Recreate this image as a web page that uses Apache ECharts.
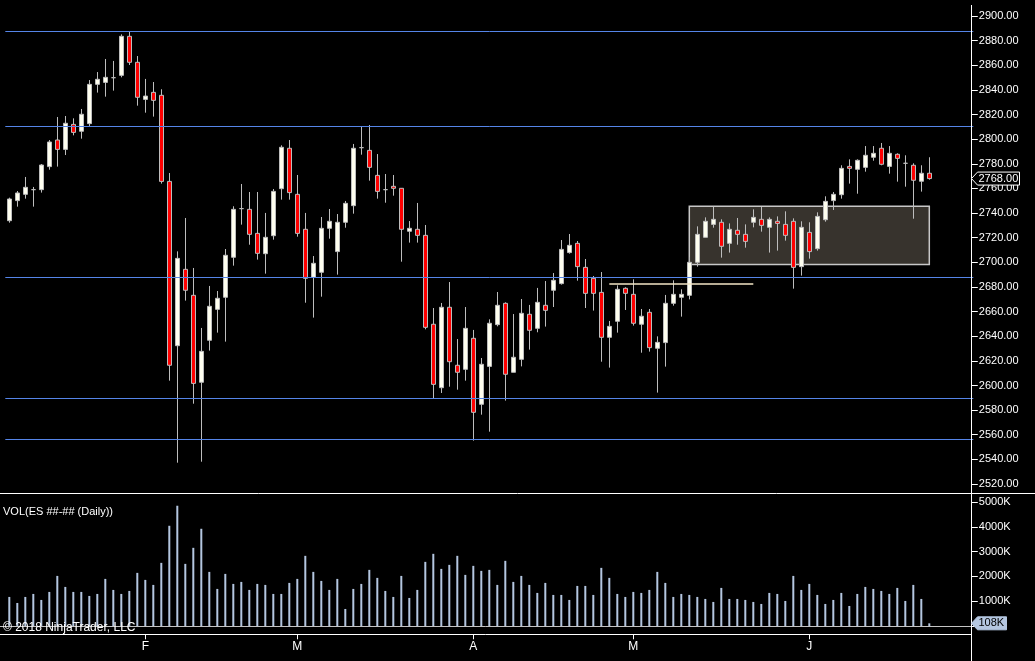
<!DOCTYPE html>
<html>
<head>
<meta charset="utf-8">
<script src="https://cdn.jsdelivr.net/npm/echarts@6/dist/echarts.min.js"></script>
<style>
html,body{margin:0;padding:0;background:#000;}
#c{width:1035px;height:661px;}
</style>
</head>
<body>
<div id="c"></div>
<script>
// ---- data ----
const openP = [2733.8,2750.1,2755.2,2759,2759,2777.7,2799.3,2791.7,2812,2806.4,2812.6,2844.5,2846.1,2849.9,2851.8,2883.5,2862.4,2832.3,2838,2835.6,
2765.7,2632.3,2694.3,2673.2,2602.6,2636.7,2661.8,2671.6,2704.1,2743.6,2743,2723.5,2707,2721.6,2759.8,2792.6,2755.2,2726.8,2687.8,2691.9,
2727.6,2708.7,2732.5,2746,2793.1,2790.9,2770.6,2759,2761.7,2760.1,2725.2,2726.8,2721.9,2649.7,2598.2,2663.5,2616.4,2613.1,2638.3,2584.7,
2615.5,2649.4,2666.7,2610.7,2621.2,2657.8,2646.4,2665.1,2677.3,2682.7,2707.9,2715.4,2695.9,2687,2675.6,2639.1,2652.1,2678.9,2674,2649.7,
2659.4,2630.2,2634.8,2666.7,2671.6,2673.2,2700,2720.3,2730.8,2732.5,2715.4,2726,2722.7,2732.5,2734.9,2728.4,2733.3,2730.8,2733.3,2696.5,
2724.3,2711.1,2734.6,2750.1,2754.9,2777.9,2775.5,2777.1,2785.3,2792.6,2777.9,2787.7,2780.4,2778.8,2765.8,2772.3];
const highP = [2752.5,2757.9,2769.3,2761.2,2779.8,2799.3,2818,2818.8,2816.9,2824.5,2848,2854.5,2865.1,2863.5,2885.1,2887.3,2867.5,2848.9,2846.4,2840.5,
2772.5,2708.9,2736,2695.4,2646.7,2680.8,2676.7,2710.8,2745.5,2763.6,2757.1,2757.1,2740.1,2759.5,2795,2799.3,2770.9,2740.1,2705.1,2736.8,
2743.3,2739.2,2749.8,2796.1,2810.2,2811.5,2787.9,2771.7,2770.9,2760.3,2733.5,2748.2,2730.3,2662.9,2667,2684,2637.7,2663.7,2645.1,2622.3,
2653.7,2675.9,2667.5,2658,2670.2,2665.4,2679.2,2684.8,2691.3,2718.1,2723,2717.3,2702.7,2688.9,2692.1,2652.4,2681.3,2679.7,2686.2,2662.1,
2662.1,2639.9,2673.5,2685.4,2678.1,2704.1,2729.2,2736.5,2745.2,2734.9,2731.6,2736,2730.8,2743,2744.9,2736.5,2737.3,2741.4,2735.7,2733.3,
2732.5,2740.6,2753.6,2757.1,2778.8,2783.6,2783.6,2794.4,2794.4,2796.9,2794.4,2788.5,2786.9,2780.4,2778.8,2785.3];
const lowP = [2732.2,2745.2,2751.7,2745.2,2756.6,2775.2,2777.7,2787.1,2803.1,2800.4,2810.7,2837.8,2834.5,2839.4,2850.2,2860.2,2827.2,2821.5,2818.3,2763.9,
2603.9,2537.3,2668.9,2585.2,2538.1,2628.3,2642.9,2635.6,2697.3,2730.6,2714.3,2702.2,2690.8,2718.4,2750.9,2750.9,2720.8,2667.2,2655.1,2672.1,
2719.2,2690,2728.1,2739.5,2787.4,2766.3,2751.7,2748.4,2754.1,2700.5,2716,2716,2645.6,2589.6,2593.9,2599,2596.6,2603.9,2555.2,2576.3,
2562.5,2648,2587.7,2610.7,2615.5,2629.1,2643.2,2647.8,2663.7,2681.9,2707,2685.1,2662.9,2660.8,2619.3,2614.5,2642.9,2661.3,2648.6,2626.6,
2627.5,2594.2,2615.3,2664.8,2655.9,2669.9,2696.5,2720.3,2728.1,2703.8,2707.9,2714.3,2711.9,2728.4,2724.9,2707.9,2709.5,2717.6,2678.6,2689.2,
2703,2709.5,2733,2742.5,2751.7,2763.9,2755.7,2773.6,2782.5,2778.8,2772,2765.5,2761.4,2735.4,2757.4,2767.1];
const closeP = [2751.4,2756.3,2760.9,2759,2779,2797.7,2791.7,2812.9,2805.5,2820.2,2844.5,2848.6,2850.2,2849.9,2883.5,2862.4,2834,2835,2831.5,2765.7,
2616.4,2703.2,2677.3,2601.7,2627.7,2664.3,2670.8,2705.7,2743,2743.6,2722.7,2707.3,2720.3,2757.6,2793.4,2756.6,2723.5,2687,2699.2,2727.6,
2733.3,2732.5,2747.9,2792.6,2793.1,2777.1,2757.6,2759,2760.1,2726.8,2727.6,2721.9,2647.2,2600.9,2663.5,2619.3,2610.7,2646.4,2578.2,2617.2,
2650.5,2665.1,2609.1,2622.9,2658.6,2644.8,2667.5,2661,2685.4,2710.5,2713.8,2696.5,2674.8,2674.8,2639.1,2648,2678.1,2674.8,2650.5,2656.2,
2630.7,2635,2666.7,2674,2674,2700,2722.7,2733.3,2734.9,2713,2726.8,2722.7,2717,2736.5,2730,2734.9,2731.6,2721.9,2695.9,2728.4,
2708.7,2737.3,2749.5,2755.2,2776.3,2776.3,2782.8,2786.9,2788.5,2779.6,2788.5,2784.4,2780.4,2766.6,2772.3,2768];
// daily volume, thousands of contracts
const volumeK = [1172,929,1172,1293,1051,1374,2020,1576,1374,1374,1212,1293,1899,1455,1293,1414,2142,1859,1657,2546,
4041,4849,2505,3152,3920,2182,1495,2101,1697,1778,1455,1697,1657,1293,1293,1738,1899,2829,2182,1818,
1455,1899,687,1495,1697,2263,1940,1414,1172,2020,1131,1455,2586,2910,2303,2465,2829,2061,2425,2223,
2263,1657,2627,1778,2020,1657,1334,1738,1253,1253,1051,1616,1616,1253,2344,1940,1293,1172,1374,1334,
1455,2182,1738,1172,1293,1253,1172,1091,970,1536,1091,1091,1051,970,889,1334,1293,1010,2020,1455,
1697,1253,889,1051,1334,808,1293,1576,1495,1414,1293,1536,1010,1657,1091,108];
// month tick labels and the bar (index) each one sits on
const monthLabels = ['F','M','A','M','J'];
const monthBars = [17,36,58,78,100];
// horizontal levels drawn on the price panel
const levelLines = [2888, 2810.5, 2688, 2589.5, 2556.25];
const supportLine = {fromBar: 75, toBar: 93, price: 2683};
const rangeBox = {fromBar: 85, toBar: 115, top: 2745.5, bottom: 2698.25};
const priceTicks = {min: 2520, max: 2900, step: 20};
const volTicks = {min: 0, max: 5000, step: 1000};

// ---- build ----
const categories = openP.map((_, i) => String(i));
const candles = openP.map((o, i) => [o, closeP[i], lowP[i], highP[i]]);
const FONT = "'Liberation Sans', Arial, sans-serif";

const chart = echarts.init(document.getElementById('c'), null, {renderer: 'canvas', width: 1035, height: 661});

const gridLeft = 5.3, gridWidth = 968;
const xBase = {
  type: 'category', data: categories, boundaryGap: true, max: 120
};

const markLineData = levelLines.map(v => ({yAxis: v, lineStyle: {color: '#5585e8', width: 1, type: 'solid'}}));
markLineData.push([
  {coord: [supportLine.fromBar, supportLine.price], lineStyle: {color: '#f3e6c6', width: 1.5, type: 'solid'}},
  {coord: [supportLine.toBar, supportLine.price]}
]);

const option = {
  backgroundColor: '#000000',
  animation: false,
  textStyle: {fontFamily: FONT},
  grid: [
    {left: gridLeft, width: gridWidth, top: 16, height: 468},
    {left: gridLeft, width: gridWidth, top: 502, height: 124},
    {left: gridLeft, width: gridWidth, top: 626, height: 8.3}
  ],
  xAxis: [
    Object.assign({gridIndex: 0, show: false}, xBase),
    Object.assign({gridIndex: 1, show: false}, xBase),
    Object.assign({
      gridIndex: 2, position: 'bottom',
      axisLine: {show: false},
      axisTick: {show: true, alignWithLabel: true, length: 5, lineStyle: {color: '#ffffff', width: 1},
        interval: (idx) => monthBars.indexOf(idx) >= 0},
      axisLabel: {show: true, color: '#ffffff', fontSize: 12, fontFamily: FONT, margin: 6,
        interval: (idx) => monthBars.indexOf(idx) >= 0,
        formatter: (v, idx) => { const k = monthBars.indexOf(idx); return k >= 0 ? monthLabels[k] : ''; }},
      splitLine: {show: false}
    }, xBase)
  ],
  yAxis: [
    {
      gridIndex: 0, type: 'value', position: 'right', offset: -1.5,
      min: priceTicks.min, max: priceTicks.max, interval: priceTicks.step,
      axisLine: {show: false},
      axisTick: {show: true, length: 6, lineStyle: {color: '#ffffff'}},
      axisLabel: {color: '#ffffff', fontSize: 11, fontFamily: FONT, margin: 7, formatter: v => v.toFixed(2)},
      splitLine: {show: false}
    },
    {
      gridIndex: 1, type: 'value', position: 'right', offset: -1.5,
      min: volTicks.min, max: volTicks.max, interval: volTicks.step,
      axisLine: {show: false},
      axisTick: {show: true, length: 6, lineStyle: {color: '#ffffff'}},
      axisLabel: {color: '#ffffff', fontSize: 11, fontFamily: FONT, margin: 7,
        formatter: v => v === 0 ? '' : v + 'K'},
      splitLine: {show: false}
    },
    {gridIndex: 2, type: 'value', show: false}
  ],
  series: [
    {
      type: 'candlestick', xAxisIndex: 0, yAxisIndex: 0,
      data: candles, barWidth: 5,
      itemStyle: {color: '#fffff0', color0: '#ff0000', borderColor: '#bdbdbd', borderColor0: '#bdbdbd', borderWidth: 1},
      markLine: {silent: true, symbol: ['none', 'none'], label: {show: false}, animation: false, data: markLineData},
      markArea: {silent: true, label: {show: false},
        data: [[
          {coord: [rangeBox.fromBar, rangeBox.top], itemStyle: {color: '#37332d', borderColor: '#c8c8c8', borderWidth: 1.5}},
          {coord: [rangeBox.toBar, rangeBox.bottom]}
        ]]}
    },
    {
      type: 'bar', xAxisIndex: 1, yAxisIndex: 1,
      data: volumeK, barWidth: 2,
      itemStyle: {color: '#b4c6e0'}
    }
  ]
};
chart.setOption(option);

// value-tag boxes on the axes, placed through the chart's own scales
const lastIdx = closeP.length - 1;
const yPrice = chart.convertToPixel({yAxisIndex: 0}, closeP[lastIdx]);
const yVol = chart.convertToPixel({yAxisIndex: 1}, volumeK[lastIdx]);
const axisX = 971.5;
function tag(y, w, fill, stroke, textColor, txt) {
  return [
    {type: 'polygon', z: 100, shape: {points: [[axisX, y], [axisX + 6, y - 6.5], [axisX + w, y - 6.5], [axisX + w, y + 6.5], [axisX + 6, y + 6.5]]},
      style: {fill: fill, stroke: stroke, lineWidth: 1}},
    {type: 'text', z: 101, x: axisX + 7, y: y, style: {text: txt, fill: textColor, font: '11px ' + FONT, textVerticalAlign: 'middle', verticalAlign: 'middle'}}
  ];
}
chart.setOption({
  graphic: [
    {type: 'line', z: 50, shape: {x1: axisX, y1: 5, x2: axisX, y2: 661}, style: {stroke: '#ffffff', lineWidth: 1}},
    {type: 'line', z: 50, shape: {x1: 0, y1: 493.5, x2: 1035, y2: 493.5}, style: {stroke: '#ffffff', lineWidth: 1}},
    {type: 'line', z: 50, shape: {x1: 0, y1: 634.5, x2: axisX, y2: 634.5}, style: {stroke: '#ffffff', lineWidth: 1}},
    {type: 'line', z: 40, shape: {x1: 0, y1: 626.5, x2: axisX, y2: 626.5}, style: {stroke: '#c4c4c4', lineWidth: 1}},
    {type: 'text', z: 60, left: 3, top: 506, style: {text: 'VOL(ES ##-## (Daily))', fill: '#ffffff', font: '11px ' + FONT}},
    {type: 'text', z: 60, left: 3, top: 622, style: {text: '\u00a9 2018 NinjaTrader, LLC', fill: '#ffffff', font: '12px ' + FONT}}
  ].concat(tag(yPrice, 48, '#000000', '#ffffff', '#ffffff', closeP[lastIdx].toFixed(2)))
   .concat(tag(yVol, 35, '#b4c6e0', '#b4c6e0', '#000000', volumeK[lastIdx] + 'K'))
});
</script>
</body>
</html>
